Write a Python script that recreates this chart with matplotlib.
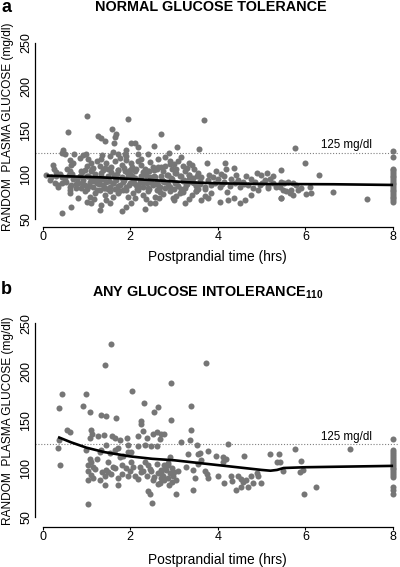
import matplotlib
matplotlib.use("Agg")
import matplotlib.pyplot as plt

plt.rcParams['font.family'] = ['Liberation Sans', 'DejaVu Sans']
plt.rcParams['mathtext.fontset'] = 'custom'
plt.rcParams['mathtext.rm'] = 'Liberation Sans'
plt.rcParams['mathtext.bf'] = 'Liberation Sans:bold'

# ---- panel a: normal glucose tolerance ----
a_hours = [
    1.02, 1.95, 0.58, 1.26, 1.32, 1.58, 1.68, 1.64, 1.42, 2.69, 1.63, 2.02, 2.10, 2.18, 2.53,
    3.68, 3.07, 3.57, 2.88, 3.16, 5.75, 6.00, 5.45, 6.30, 6.63, 7.41,
    0.46, 0.43, 0.50, 0.72, 0.92, 0.98, 1.60, 1.72, 1.91, 1.89, 2.18, 2.40,
    0.24, 0.25, 0.62, 0.65, 0.85, 1.03, 1.11, 1.23, 1.34, 1.45, 1.53, 1.64, 1.76, 1.80, 1.91,
    2.02, 2.18, 2.25, 2.33, 2.52, 2.63, 0.62, 0.96, 1.11, 1.38, 1.49, 1.72, 1.87, 1.99, 2.10,
    2.40, 2.63, 2.90, 2.90, 3.74, 4.17, 4.18, 4.37, 2.71, 4.90, 4.99, 5.11, 5.26, 3.96, 4.08,
    4.42, 4.65,
    2.75, 2.85, 2.95, 3.05, 3.15, 3.25, 3.35, 3.45, 3.55, 3.62, 2.80, 3.00, 3.20, 3.40, 3.10, 3.30,
    0.08, 0.16, 0.27, 0.35, 0.43, 0.54, 0.65, 0.81, 0.92, 0.96, 1.07, 1.15, 1.23, 1.30, 1.38,
    1.45, 1.53, 1.60, 1.68, 1.76, 1.83, 1.91, 1.99, 2.06, 2.14, 2.21, 2.29, 2.37, 2.44, 2.52,
    2.60, 2.67, 1.04, 1.34, 1.64, 1.95, 2.25, 2.56,
    0.20, 0.30, 0.50, 0.70, 0.85, 1.10, 1.20, 1.50, 1.70, 1.80, 2.00, 2.10, 2.35, 2.45, 2.70,
    2.75, 2.85, 2.95, 3.05, 3.10, 3.20, 3.30, 3.35, 3.45, 3.50, 3.60, 2.80, 3.00, 3.25, 3.55,
    0.75, 1.00, 1.25, 1.40, 1.65, 1.90, 2.15, 2.40, 2.60,
    0.40, 0.60, 0.90, 1.15, 1.30, 1.55, 1.85, 2.05, 2.30, 2.55,
    3.77, 3.93, 4.04, 4.15, 4.27, 4.38, 4.50, 4.57, 4.69, 4.84, 4.95, 5.07, 5.14, 5.26, 5.33,
    5.45, 3.70, 3.89, 4.15, 3.80, 3.85, 4.00, 4.10, 4.30, 4.45, 4.60, 4.75, 4.80, 5.00, 5.20,
    0.62, 0.62, 0.96, 1.07, 1.19, 1.30, 1.42, 1.53, 1.60, 1.72, 1.83, 1.95, 2.06, 2.18, 2.29,
    2.40, 2.56, 2.67, 0.88, 1.42, 2.75, 2.90, 3.05, 3.20, 3.40, 3.50,
    0.43, 0.65, 1.00, 1.11, 1.30, 1.34, 1.53, 1.80, 1.91, 2.02, 2.33, 2.44, 2.56, 3.26, 3.62,
    3.77, 4.04, 4.23, 4.37, 4.50, 4.61, 4.76, 4.92, 5.14, 5.45, 3.85, 3.51, 3.13, 2.97,
    5.41, 5.52, 5.60, 5.71, 5.79, 5.68, 5.64, 5.71, 5.83, 5.90, 6.02, 6.13, 6.10, 5.45, 5.56,
    5.49,
    0.30, 0.45, 0.55, 0.68, 0.78, 0.88, 1.00, 1.12, 1.22, 1.33, 1.43, 1.52, 1.62, 1.73, 1.82,
    1.93, 2.03, 2.12, 2.23, 2.32, 2.43, 2.53, 2.62, 2.72, 2.83, 2.93, 3.03, 3.13, 3.23, 3.33,
    3.43, 3.53,
    0.35, 0.50, 0.62, 0.75, 0.90, 1.05, 1.18, 1.28, 1.40, 1.50, 1.60, 1.72, 1.85, 1.97, 2.08,
    2.20, 2.30, 2.42, 2.50, 2.64, 2.78, 2.90, 3.02, 3.15, 3.28, 3.40, 3.58, 3.70,
    0.70, 1.00, 1.35, 1.55, 1.90, 2.25, 2.45, 2.80, 3.05, 3.35,
    0.80, 1.17, 1.45, 1.75, 2.10, 2.35, 2.65, 3.00, 3.35, 3.70, 4.20,
    8, 8, 8, 8, 8, 8, 8, 8, 8, 8, 8, 8, 8, 8, 8, 8, 8, 8, 8, 8, 8, 8,
]
a_glucose = [
    167, 163, 148, 144, 142, 152, 146, 143, 138, 146, 136, 136, 136, 132, 133,
    162, 131, 129, 125, 120, 130, 113, 105, 100, 80, 72,
    128, 125, 124, 124, 122, 124, 126, 124, 128, 124, 124, 124,
    111, 107, 117, 111, 119, 118, 113, 115, 118, 113, 121, 115, 119, 111, 117,
    113, 116, 111, 107, 109, 109, 104, 105, 104, 105, 107, 105, 104, 105, 104,
    104, 118, 116, 112, 113, 113, 107, 108, 109, 102, 100, 102, 98, 104, 101,
    100, 98,
    104, 100, 106, 102, 98, 104, 100, 106, 102, 97, 110, 112, 110, 111, 115, 108,
    100, 94, 90, 86, 90, 92, 88, 90, 94, 88, 92, 86, 90, 94, 88,
    92, 86, 90, 94, 88, 92, 86, 90, 94, 88, 92, 86, 90, 94, 88,
    92, 86, 98, 98, 97, 98, 98, 97,
    97, 99, 96, 95, 99, 96, 101, 99, 101, 96, 101, 96, 100, 97, 99,
    93, 89, 95, 91, 87, 93, 89, 95, 91, 87, 93, 85, 84, 85, 84,
    85, 84, 83, 85, 84, 83, 84, 85, 83,
    101, 100, 103, 108, 110, 103, 108, 109, 103, 105,
    94, 90, 86, 92, 87, 90, 86, 92, 88, 92, 88, 94, 87, 90, 86,
    92, 84, 97, 98, 100, 88, 95, 89, 95, 94, 89, 95, 85, 91, 95,
    83, 79, 81, 75, 79, 83, 77, 81, 75, 79, 83, 75, 79, 83, 77,
    81, 75, 80, 85, 85, 78, 81, 76, 80, 77, 82,
    56, 63, 69, 68, 60, 66, 68, 59, 63, 68, 61, 68, 68, 68, 71,
    73, 69, 71, 74, 68, 71, 77, 83, 85, 73, 79, 81, 79, 73,
    86, 90, 92, 91, 88, 83, 79, 77, 83, 85, 78, 79, 86, 73, 81,
    83,
    103, 97, 107, 101, 95, 104, 99, 106, 96, 102, 108, 93, 100, 105, 97,
    103, 99, 107, 95, 101, 104, 98, 106, 94, 100, 96, 102, 98, 94, 100,
    96, 99,
    88, 93, 86, 89, 91, 87, 93, 89, 95, 84, 91, 87, 94, 88, 90,
    86, 92, 84, 91, 88, 92, 86, 90, 84, 88, 92, 89, 86,
    113, 110, 122, 109, 121, 118, 114, 120, 107, 113,
    73, 72, 71, 82, 73, 72, 74, 71, 72, 76, 80,
    127, 120, 107, 105, 103, 101, 99, 97, 95, 93, 91, 89, 87, 85, 83, 81, 79, 77, 75, 73, 71, 69,
]
a_fit_hours = [0.09, 1.31, 2.45, 3.29, 3.97, 5.11, 6.64, 8.0]
a_fit_glucose = [98.9, 97.0, 94.0, 91.4, 90.2, 89.4, 89.1, 88.3]

# ---- panel b: any glucose intolerance ----
b_hours = [
    0.43, 0.98, 0.37, 0.92, 1.07, 1.34, 1.44, 1.68, 2.05, 2.31, 2.53, 2.63, 2.24, 2.24, 1.55,
    1.42, 3.72, 2.92, 3.38, 2.92, 3.38, 3.37, 3.16, 2.71, 2.76, 2.67, 3.52, 3.77, 3.58, 3.55,
    4.22, 3.96, 4.19, 4.12, 4.59, 5.19, 5.39, 5.34, 5.41, 3.32, 7.01, 5.75, 5.90, 5.87, 5.94,
    5.49, 6.25, 5.97,
    0.56, 0.62, 1.11, 1.26, 1.39, 1.58, 1.66, 1.76, 1.93, 2.18, 2.29, 2.37, 2.52, 2.60, 1.09,
    1.13, 0.37, 0.34, 0.39, 1.04, 2.50, 2.40, 2.44,
    0.98, 1.07, 1.11, 1.04, 1.23, 1.15, 1.04, 1.11, 1.04, 1.15, 1.30, 1.42, 1.45, 1.49, 1.42,
    1.49, 1.60, 1.72, 1.72, 1.80, 1.83, 1.95, 2.02, 2.06, 2.10, 2.18, 2.21, 2.29, 2.33, 2.37,
    2.40, 2.48, 2.52, 2.60, 2.63, 2.63, 2.71, 2.60, 2.48, 2.18, 2.33, 1.72, 1.64, 1.53, 1.34,
    1.30, 1.95, 1.45, 1.76, 2.02, 1.80, 1.99, 1.95,
    2.90, 2.86, 2.78, 2.82, 2.71, 2.90, 2.97, 2.78, 2.67, 3.28, 3.43, 3.47, 3.70, 3.74, 3.77,
    4.00, 4.15, 4.31, 4.32, 4.46, 4.53, 4.57, 4.65, 4.69, 4.76, 4.80, 4.90, 4.92, 4.99, 4.42,
    4.53, 3.43, 3.05, 2.88, 3.62, 3.55, 4.12,
    2.75, 2.85, 2.95, 3.00, 2.80, 2.70, 3.05, 2.95,
    1.20, 1.35, 1.55, 1.65, 2.25, 2.45, 2.55, 2.85, 3.10, 1.90,
    8, 8, 8, 8, 8, 8, 8, 8, 8, 8, 8, 8, 8, 8, 8, 8, 8, 8, 8,
]
b_glucose = [
    177, 177, 163, 165, 158, 155, 154, 152, 180, 168, 158, 164, 149, 146, 229,
    207, 209, 188, 165, 150, 140, 129, 127, 136, 136, 130, 124, 118, 116, 115,
    125, 113, 110, 107, 113, 115, 115, 107, 107, 115, 120, 120, 108, 96, 98,
    97, 81, 74,
    140, 138, 140, 134, 135, 134, 132, 129, 132, 134, 139, 132, 136, 138, 131,
    136, 129, 121, 104, 63, 64, 77, 74,
    119, 110, 107, 104, 110, 102, 97, 93, 88, 90, 88, 92, 98, 96, 83,
    107, 102, 90, 83, 104, 113, 117, 117, 102, 92, 89, 102, 97, 107, 92,
    104, 97, 88, 105, 95, 84, 98, 123, 123, 123, 124, 121, 119, 116, 119,
    117, 124, 124, 112, 107, 94, 97, 92,
    112, 106, 104, 98, 95, 95, 92, 88, 85, 102, 98, 90, 97, 94, 90,
    92, 85, 92, 87, 92, 89, 86, 88, 81, 92, 85, 95, 92, 85, 78,
    81, 78, 74, 83, 109, 105, 112,
    92, 90, 100, 96, 101, 90, 88, 86,
    99, 96, 94, 100, 96, 99, 91, 104, 97, 100,
    130, 119, 117, 115, 113, 111, 109, 107, 105, 103, 101, 99, 97, 95, 93, 91, 81, 78, 74,
]
b_fit_hours = [0.35, 0.65, 1.0, 1.4, 2.0, 2.5, 3.0, 3.5, 4.0, 4.5, 5.0, 5.2, 5.35, 5.5, 6.0, 7.0, 8.0]
b_fit_glucose = [132.5, 127, 121.5, 117, 112.5, 110, 108.5, 106, 103.5, 101, 98.5, 97.7, 98.5,
                 100.5, 101.3, 102, 102.7]

y_ticks = [50, 100, 150, 200, 250]
x_ticks = [0, 2, 4, 6, 8]
cutoff = 125

W, H = 400, 567
fig = plt.figure(figsize=(W / 100, H / 100), dpi=100)


def px(x, y):
    return x / W, 1 - y / H


def panel(rect, hours, glucose, fit_h, fit_g, ylim, xlabel_pad):
    ax = fig.add_axes(rect)
    ax.scatter(hours, glucose, s=19, color='#767676', linewidths=0, zorder=2)
    ax.plot(fit_h, fit_g, color='black', lw=1.9, zorder=3, solid_capstyle='butt')
    ax.axhline(cutoff, color='#808080', lw=0.8, ls=(0, (1, 1.6)), zorder=1)
    ax.text(6.93, cutoff + 1.5, '125 mg/dl', ha='center', va='bottom', fontsize=8.3)
    ax.set_xlim(-0.176, 8.135)
    ax.set_ylim(*ylim)
    ax.spines['top'].set_visible(False)
    ax.spines['right'].set_visible(False)
    ax.spines['left'].set_bounds(50, 250)
    ax.spines['bottom'].set_bounds(0, 8)
    for s in ('left', 'bottom'):
        ax.spines[s].set_linewidth(0.9)
    ax.set_xticks(x_ticks)
    ax.set_yticks(y_ticks)
    ax.set_yticklabels([str(v) for v in y_ticks], rotation=90, va='center')
    ax.tick_params(axis='x', length=2, width=0.8, pad=1, labelsize=9)
    ax.tick_params(axis='y', length=0, pad=2, labelsize=9)
    ax.set_xlabel('Postprandial time (hrs)', fontsize=9.9, labelpad=xlabel_pad)
    return ax


# axes rectangles from pixel positions
ax_a = panel([35 / W, 1 - 227.3 / H, 364 / W, (227.3 - 40) / H],
             a_hours, a_glucose, a_fit_hours, a_fit_glucose, (40.2, 253), 5)
ax_b = panel([35 / W, 1 - 527.3 / H, 364 / W, (527.3 - 320) / H],
             b_hours, b_glucose, b_fit_hours, b_fit_glucose, (39.2, 253.5), 7)

ylab = 'RANDOM  PLASMA GLUCOSE (mg/dl)'
fig.text(*px(8, 127), ylab, rotation=90, ha='center', va='center', fontsize=8.6)
fig.text(*px(8, 421), ylab, rotation=90, ha='center', va='center', fontsize=8.6)

fig.text(*px(211, 7), 'NORMAL GLUCOSE TOLERANCE', ha='center', va='center',
         fontsize=10.4, fontweight='bold')
fig.text(*px(208, 293), r'ANY GLUCOSE INTOLERANCE$_{\mathbf{110}}$', ha='center', va='center',
         fontsize=10.4, fontweight='bold')
fig.text(*px(1, 8), 'a', ha='left', va='center', fontsize=13, fontweight='bold')
fig.text(*px(1, 289), 'b', ha='left', va='center', fontsize=13, fontweight='bold')

fig.savefig('out.png', dpi=100)
